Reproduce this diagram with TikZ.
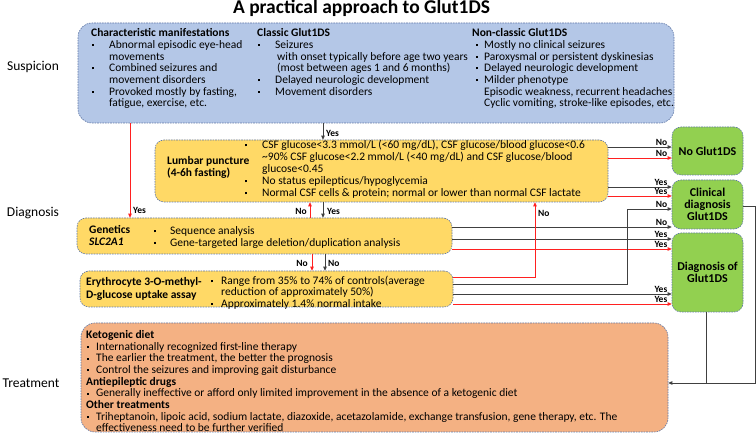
\documentclass[tikz,border=0pt]{standalone}
\usepackage{fontspec}
\setmainfont{Carlito}
\usetikzlibrary{arrows.meta}
\definecolor{bluefill}{HTML}{B4C7E7}
\definecolor{yelfill}{HTML}{FFD966}
\definecolor{grnfill}{HTML}{92D050}
\definecolor{orgfill}{HTML}{F4B183}
\definecolor{bordc}{HTML}{5F77A6}
\definecolor{lnc}{HTML}{404040}
\definecolor{redc}{HTML}{FF2020}
\newcommand\st{\rule{0pt}{9pt}}
\newcommand\smbul{\hspace*{1pt}\raisebox{2.4pt}{\rule{2pt}{2pt}}}
\newcommand\bitem[2]{\makebox[#1][l]{\smbul}#2}
\newcommand\cont[2]{\hspace*{#1}#2}
\begin{document}
\begin{tikzpicture}[x=1pt,y=-1pt,
 box/.style={draw=bordc, dash pattern=on 1.6pt off 1pt, line width=0.6pt, inner sep=0pt, rounded corners=9pt},
 txt/.style={anchor=north west, inner sep=0pt, align=left, font=\fontsize{11.5}{11.7}\selectfont},
 lbl/.style={font=\bfseries\fontsize{9.5}{10}\selectfont, inner sep=0pt, text=black},
 side/.style={font=\fontsize{13.5}{15}\selectfont, inner sep=0pt},
 grn/.style={box, fill=grnfill, font=\bfseries\fontsize{12}{11.7}\selectfont, align=center, minimum width=71pt},
 blk/.style={draw=lnc, line width=0.8pt, -{Triangle[length=4pt,width=3.5pt]}},
 redar/.style={draw=redc, line width=0.8pt, -{Triangle[length=4pt,width=3.5pt]}},
 hl/.style={lbl, anchor=south east, xshift=-4pt, yshift=0.8pt}]
\useasboundingbox (0,0) rectangle (756,435);
\fill[white] (0,0) rectangle (756,435);

% title and side labels
\node[font=\bfseries\fontsize{19.5}{22}\selectfont, anchor=base, inner sep=0pt] (title) at (361.5,14) {A practical approach to Glut1DS};
\node[side] (sSusp) at (33,67) {Suspicion};
\node[side] (sDiag) at (33,213) {Diagnosis};
\node[side] (sTreat) at (31,383) {Treatment};

% boxes
\node[box, fill=bluefill, rounded corners=14pt, minimum width=596pt, minimum height=100pt] (susp) at (376,73) {};
\node[box, fill=yelfill, minimum width=453pt, minimum height=62pt] (lumb) at (381.5,171) {};
\node[box, fill=yelfill, minimum width=375pt, minimum height=36pt] (gen) at (264.5,236) {};
\node[box, fill=yelfill, minimum width=373pt, minimum height=36pt] (ery) at (266.5,289) {};
\node[box, fill=orgfill, rounded corners=14pt, minimum width=587pt, minimum height=109pt] (treat) at (374.5,377.5) {};
\node[grn, minimum height=48pt] (noG) at (707.5,151) {No Glut1DS};
\node[grn, minimum height=49pt] (clin) at (707.5,204.5) {Clinical\\diagnosis\\Glut1DS};
\node[grn, minimum height=79pt] (diagG) at (707.5,272.5) {Diagnosis of\\Glut1DS};

% suspicion texts
\node[txt] (tC1) at (91,27.5) {\st\textbf{Characteristic manifestations}\\
\bitem{18pt}{Abnormal episodic eye-head}\\
\cont{18pt}{movements}\\
\bitem{18pt}{Combined seizures and}\\
\cont{18pt}{movement disorders}\\
\bitem{18pt}{Provoked mostly by fasting,}\\
\cont{18pt}{fatigue, exercise, etc.}};
\node[txt] (tC2) at (257,27.5) {\st\textbf{Classic Glut1DS}\\
\bitem{18pt}{Seizures}\\
\cont{20pt}{with onset typically before age two years}\\
\cont{20pt}{(most between ages 1 and 6 months)}\\
\bitem{18pt}{Delayed neurologic development}\\
\bitem{18pt}{Movement disorders}};
\node[txt] (tC3) at (472,27.5) {\st\textbf{Non-classic Glut1DS}\\
\hspace*{3pt}\bitem{9pt}{Mostly no clinical seizures}\\
\hspace*{3pt}\bitem{9pt}{Paroxysmal or persistent dyskinesias}\\
\hspace*{3pt}\bitem{9pt}{Delayed neurologic development}\\
\hspace*{3pt}\bitem{9pt}{Milder phenotype}\\
\cont{12pt}{Episodic weakness, recurrent headaches}\\
\cont{12pt}{Cyclic vomiting, stroke-like episodes, etc.}};

% lumbar puncture
\node[txt, font=\bfseries\fontsize{11.5}{12.5}\selectfont] (tL1) at (167,155) {\st Lumbar puncture\\(4-6h fasting)};
\node[txt, font=\fontsize{11.5}{12}\selectfont] (tL2) at (244,139.5) {\st\bitem{18pt}{CSF glucose<3.3 mmol/L (<60 mg/dL), CSF glucose/blood glucose<0.6}\\
\cont{18pt}{\textasciitilde 90\% CSF glucose<2.2 mmol/L (<40 mg/dL) and CSF glucose/blood}\\
\cont{18pt}{glucose<0.45}\\
\bitem{18pt}{No status epilepticus/hypoglycemia}\\
\bitem{18pt}{Normal CSF cells \& protein; normal or lower than normal CSF lactate}};

% genetics
\node[txt, font=\bfseries\fontsize{11.5}{12}\selectfont] (tG1) at (89,224.5) {\st Genetics\\\textit{SLC2A1}};
\node[txt, font=\fontsize{11.5}{11.5}\selectfont] (tG2) at (153,225.5) {\st\bitem{17pt}{Sequence analysis}\\
\bitem{17pt}{Gene-targeted large deletion/duplication analysis}};

% erythrocyte
\node[txt, font=\bfseries\fontsize{11.5}{13}\selectfont] (tE1) at (86,276.5) {\st Erythrocyte 3-O-methyl-\\D-glucose uptake assay};
\node[txt, font=\fontsize{11.5}{11.2}\selectfont] (tE2) at (210,275.5) {\st\bitem{11pt}{Range from 35\% to 74\% of controls(average}\\
\cont{11pt}{reduction of approximately 50\%)}\\
\bitem{11pt}{Approximately 1.4\% normal intake}};

% treatment
\node[txt, font=\fontsize{11.5}{11.65}\selectfont] (tT) at (86,329.5) {\st\textbf{Ketogenic diet}\\
\bitem{10pt}{Internationally recognized first-line therapy}\\
\bitem{10pt}{The earlier the treatment, the better the prognosis}\\
\bitem{10pt}{Control the seizures and improving gait disturbance}\\
\textbf{Antiepileptic drugs}\\
\bitem{10pt}{Generally ineffective or afford only limited improvement in the absence of a ketogenic diet}\\
\textbf{Other treatments}\\
\bitem{10pt}{Triheptanoin, lipoic acid, sodium lactate, diazoxide, acetazolamide, exchange transfusion, gene therapy, etc. The}\\
\cont{10pt}{effectiveness need to be further verified}};

% helper coordinates
\coordinate (h147) at (0,147);
\coordinate (h158) at (0,158);
\coordinate (h187) at (0,187);
\coordinate (h196) at (0,196);
\coordinate (h206) at (0,206);
\coordinate (h209) at (0,209);
\coordinate (h227) at (0,227);
\coordinate (h239) at (0,239);
\coordinate (h249) at (0,249);
\coordinate (h277) at (0,277);
\coordinate (h284) at (0,284);
\coordinate (h294) at (0,294);
\coordinate (h304) at (0,304);
\coordinate (h383) at (0,383);
\coordinate (v130) at (130,0);
\coordinate (v310) at (310,0);
\coordinate (v312) at (312,0);
\coordinate (v323) at (323,0);
\coordinate (v325) at (325,0);
\coordinate (v535) at (535,0);
\coordinate (v627) at (627,0);
\coordinate (v706) at (706,0);
\coordinate (v755) at (755,0);

% vertical connectors
\draw[blk] (susp.south -| v323) -- (lumb.north -| v323);
\node[lbl, anchor=west] (lyes1) at (326,133) {Yes};
\draw[redar] (susp.south -| v130) -- (gen.north -| v130);
\node[lbl, anchor=west] (lyes2) at (133,210) {Yes};
\draw[blk] (lumb.south -| v323) -- (gen.north -| v323);
\node[lbl, anchor=west] (lyes3) at (327,211) {Yes};
\draw[redar] (gen.north -| v310) -- (lumb.south -| v310);
\node[lbl, anchor=east] (lno1) at (307,211) {No};
\draw[redar] (gen.south -| v312) -- (ery.north -| v312);
\node[lbl, anchor=east] (lno2) at (308,263) {No};
\draw[blk] (gen.south -| v325) -- (ery.north -| v325);
\node[lbl, anchor=west] (lno3) at (328,263) {No};

% to the green boxes
\draw[blk] (lumb.east |- h147) -- (noG.west |- h147) node[hl] (lno4) {No};
\draw[redar] (lumb.east |- h158) -- (noG.west |- h158) node[hl] (lno5) {No};
\draw[blk] (lumb.east |- h187) -- (clin.west |- h187) node[hl] (lyes4) {Yes};
\draw[redar] (lumb.east |- h196) -- (clin.west |- h196) node[hl] (lyes5) {Yes};
\draw[blk] (gen.east |- h227) -- (clin.west |- h227) node[hl] (lno6) {No};
\draw[blk] (gen.east |- h239) -- (diagG.west |- h239) node[hl] (lyes6) {Yes};
\draw[redar] (gen.east |- h249) -- (diagG.west |- h249) node[hl] (lyes7) {Yes};
\draw[redar] (ery.east |- h277) -| (lumb.south -| v535);
\node[lbl, anchor=west] (lno7) at (538,213) {No};
\draw[blk] (ery.east |- h284) -| (v627 |- h209) -- (clin.west |- h209) node[hl] (lno8) {No};
\draw[blk] (ery.east |- h294) -- (diagG.west |- h294) node[hl] (lyes8) {Yes};
\draw[redar] (ery.east |- h304) -- (diagG.west |- h304) node[hl] (lyes9) {Yes};

% to treatment
\draw[blk] (clin.east |- h206) -| (v755 |- h383) -- (treat.east |- h383);
\draw[draw=lnc, line width=0.8pt] (diagG.south -| v706) -- (v706 |- h383);
\end{tikzpicture}
\end{document}
